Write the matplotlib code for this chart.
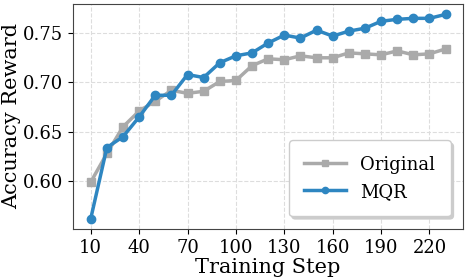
import numpy as np
import matplotlib
matplotlib.use('Agg')
import matplotlib.pyplot as plt

plt.rcParams['font.family'] = 'DejaVu Serif'

steps = list(range(10, 240, 10))
original = [0.599, 0.628, 0.655, 0.671, 0.681, 0.692, 0.689, 0.691, 0.701, 0.702,
            0.717, 0.724, 0.723, 0.727, 0.725, 0.725, 0.730, 0.729, 0.728, 0.732,
            0.728, 0.729, 0.734]
mqr = [0.562, 0.634, 0.645, 0.665, 0.687, 0.687, 0.708, 0.705, 0.720, 0.727,
       0.730, 0.740, 0.748, 0.745, 0.753, 0.747, 0.752, 0.755, 0.762, 0.764,
       0.765, 0.765, 0.769]
xticks = list(range(10, 240, 30))
yticks = [0.60, 0.65, 0.70, 0.75]

fig, ax = plt.subplots(figsize=(4.68, 2.79), dpi=100)

ax.plot(steps, original, color='#aaaaaa', marker='s', markersize=6, linewidth=2.5, label='Original')
ax.plot(steps, mqr, color='#2e86c1', marker='o', markersize=6, linewidth=2.5, label='MQR')

ax.set_xticks(xticks)
ax.set_yticks(yticks)
ax.set_yticklabels(['%.2f' % y for y in yticks])
ax.tick_params(labelsize=13)
ax.set_xlabel('Training Step', fontsize=15, labelpad=1)
ax.set_ylabel('Accuracy Reward', fontsize=15, labelpad=1)
ax.grid(True, linestyle='--', color='#dddddd', linewidth=0.8)
for s in ax.spines.values():
    s.set_color('#444444')

ax.legend(loc='lower right', fontsize=13, shadow={'color': '#cccccc', 'alpha': 1},
          borderpad=0.85, handlelength=2.3, markerscale=0.75, borderaxespad=0.7)

fig.subplots_adjust(left=0.156, right=0.99, top=0.985, bottom=0.18)
fig.savefig('out.png')
